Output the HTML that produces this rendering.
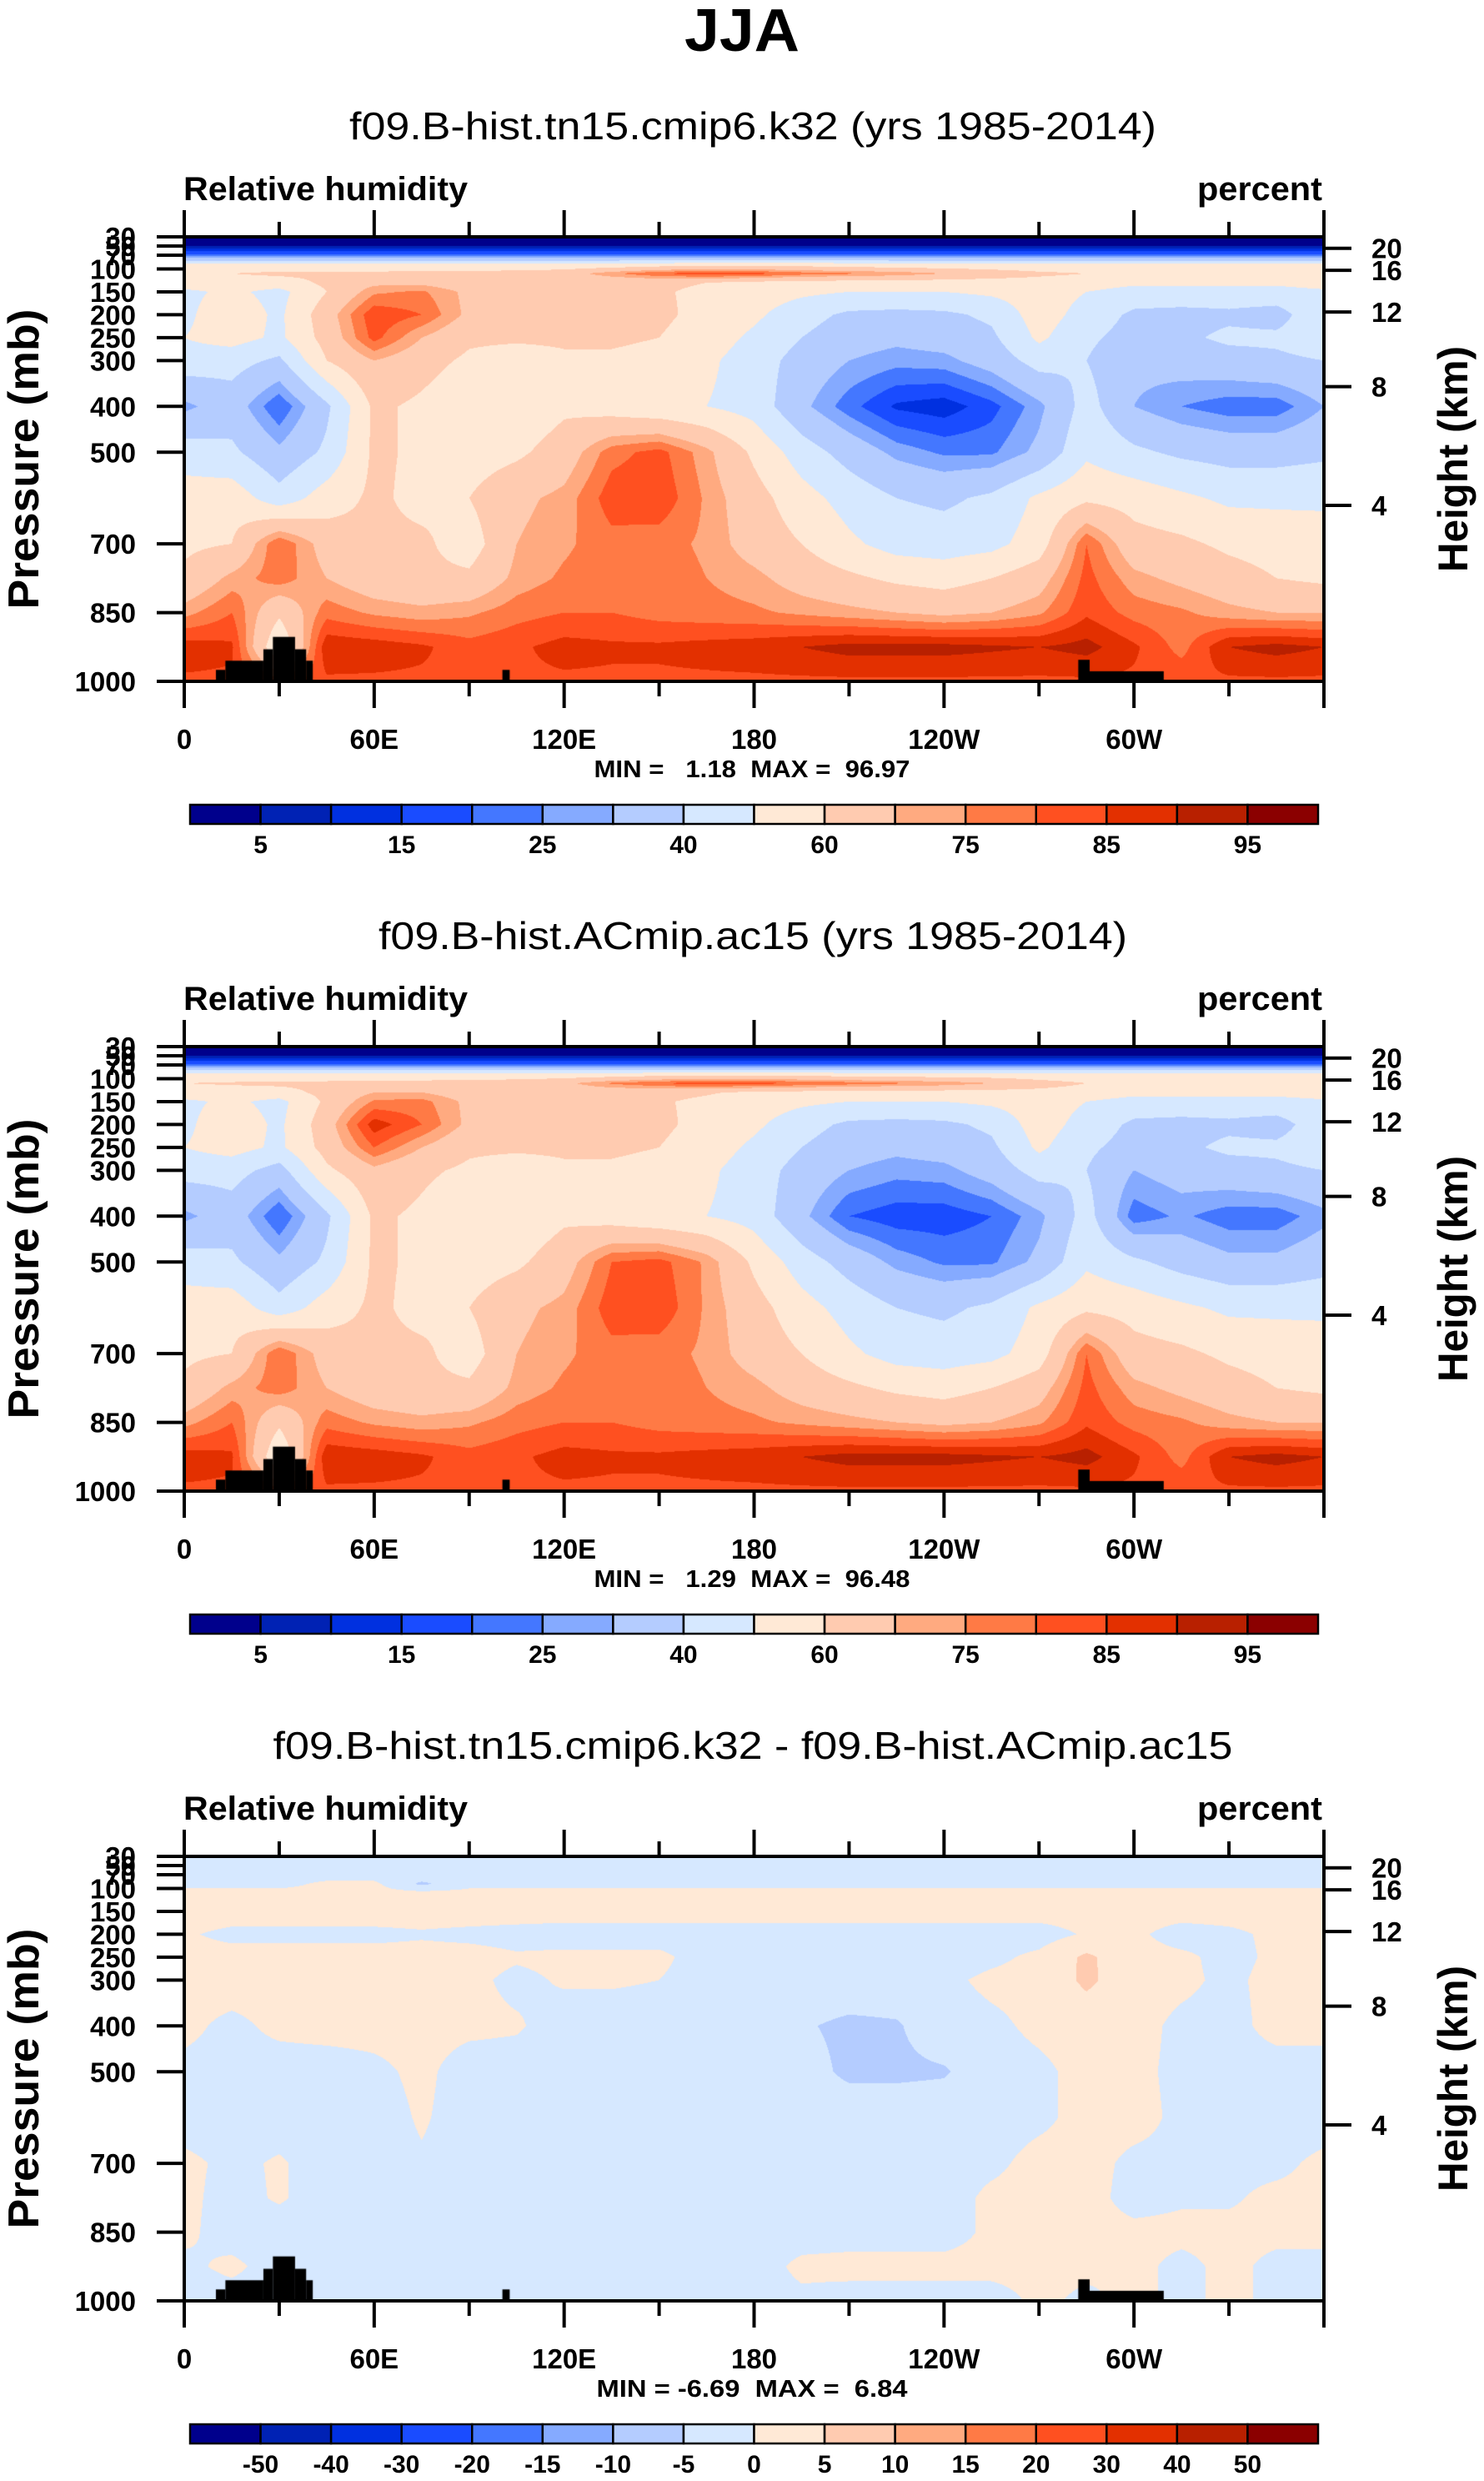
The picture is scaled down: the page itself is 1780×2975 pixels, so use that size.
<!DOCTYPE html>
<html><head><meta charset="utf-8">
<style>
html,body{margin:0;padding:0;background:#fff;}
#root{position:relative;width:1780px;height:2975px;overflow:hidden;font-family:"Liberation Sans",sans-serif;}
canvas{position:absolute;}
svg{position:absolute;left:0;top:0;}
.pre{white-space:pre;}
</style></head>
<body>
<div id="root">
<canvas id="c0" width="1367" height="533" style="left:221px;top:284px"></canvas>
<canvas id="c1" width="1367" height="533" style="left:221px;top:1255px"></canvas>
<canvas id="c2" width="1367" height="533" style="left:221px;top:2226px"></canvas>
<svg id="ov" width="1780" height="2975"></svg>
</div>
<script>
const lons=[0,15,30,45,60,75,90,105,120,135,150,165,180,195,210,225,240,255,270,285,300,315,330,345,360];
const levels=[30,50,70,90,110,130,150,200,250,300,400,500,600,700,775,850,925,1000];
const rhLevels=[5,10,15,20,25,30,40,50,60,70,75,80,85,90,95];
const rhLabels=["5","15","25","40","60","75","85","95"];
const diffLevels=[-50,-40,-30,-20,-15,-10,-5,0,5,10,15,20,30,40,50];
const diffLabels=["-50","-40","-30","-20","-15","-10","-5","0","5","10","15","20","30","40","50"];
const lonTicks=[0,60,120,180,240,300];
const lonTickLabels=["0","60E","120E","180","120W","60W"];
const presTicks=[30,50,70,100,150,200,250,300,400,500,700,850,1000];
const heightTicks=[55,103,194,357,616];
const heightLabels=["20","16","12","8","4"];
const terrain=[[10,13,975],[13,25,955],[25,28,930],[28,35,903],[35,38.5,930],[38.5,40.6,955],[100.5,102.8,975],[282.4,286,953],[286,309.4,978]];
const rh1=[
[2,2,2,2,2,2,2,2,2,2,2,2,2,2,2,2,2,2,2,2,2,2,2,2,2],
[5,5,5,5,5,5,5,5,5,5,5,5,5,5,5,5,5,5,5,5,5,5,5,5,5],
[22,22,22,22,22,22,22,22,22,22,22,22,22,22,22,22,22,22,22,22,22,22,22,22,22],
[52,52,52,52,52,52,52,52,52,52,54,55,55,55,54,52,52,52,52,52,52,52,52,52,52],
[58,60,62,62,62,63,63,64,66,74,80,83,82,78,76,74,70,66,62,60,58,58,58,58,58],
[55,55,55,62,68,68,64,63,63,62,62,60,57,56,55,55,55,55,56,55,52,52,52,52,55],
[48,52,47,60,74,76,68,64,63,62,61,58,55,52,50,50,50,52,55,50,46,46,46,46,48],
[48,56,48,66,84,80,68,64,64,63,62,57,52,44,38,37,38,42,55,46,38,37,38,36,48],
[50,54,48,64,82,70,62,62,62,62,60,55,48,40,34,32,34,38,52,42,36,38,42,42,46],
[46,44,38,60,70,64,58,54,58,58,56,52,45,36,30,27,28,34,44,40,32,34,36,38,40],
[28,35,20,38,62,58,52,52,58,55,52,50,46,32,22,14,12,18,28,44,30,25,22,22,30],
[45,42,32,42,62,58,55,58,65,78,82,72,58,45,36,28,24,24,32,48,42,38,36,36,38],
[55,56,44,55,62,57,60,68,72,83,84,74,64,54,46,40,38,42,52,58,56,52,48,48,48],
[58,60,80,66,62,62,55,70,74,78,77,74,66,60,52,46,45,47,55,80,64,62,58,56,55],
[62,72,78,70,64,62,62,72,76,78,78,75,72,66,62,58,56,60,66,82,72,68,64,60,58],
[73,80,62,78,74,72,74,78,80,80,78,77,76,74,72,70,68,70,74,84,78,76,72,70,70],
[88,86,50,89,88,86,82,84,87,86,86,87,88,90,92,92,92,91,90,92,86,78,90,92,90],
[84,84,78,84,84,84,84,84,84,84,84,84,84,84,84,84,84,84,84,84,84,84,84,84,84]];
const rh2=[
[2,2,2,2,2,2,2,2,2,2,2,2,2,2,2,2,2,2,2,2,2,2,2,2,2],
[5,5,5,5,5,5,5,5,5,5,5,5,5,5,5,5,5,5,5,5,5,5,5,5,5],
[22,22,22,22,22,22,22,22,22,22,22,22,22,22,22,22,22,22,22,22,22,22,22,22,22],
[53,53,53,53,53,53,53,53,53,53,55,56,56,55,54,53,53,53,53,53,53,53,53,53,53],
[60,61,62,62,63,63,64,65,68,76,80,83,82,80,78,76,74,70,64,60,59,59,59,59,60],
[56,56,56,63,70,70,65,64,64,63,63,61,58,57,56,56,56,56,57,56,53,53,53,53,56],
[48,52,47,62,76,77,68,64,63,62,61,58,55,52,50,50,50,52,55,50,46,46,46,46,48],
[48,56,48,66,88,80,68,64,64,63,62,57,52,44,38,37,38,42,55,46,38,37,38,36,46],
[50,54,48,64,80,70,62,62,62,62,60,55,48,40,34,32,34,38,52,42,36,38,42,42,46],
[44,44,36,58,68,62,58,54,58,58,56,52,45,36,30,27,28,34,44,40,30,34,36,38,40],
[28,35,20,38,62,58,52,52,58,55,52,50,46,32,20,17,17,20,28,44,22,26,22,22,28],
[45,42,32,42,62,58,55,58,66,80,82,74,58,45,36,28,24,24,32,48,42,36,32,32,36],
[55,56,44,55,62,57,60,68,72,83,84,74,64,54,46,40,38,42,52,58,56,52,48,48,48],
[58,60,80,66,62,62,55,70,74,78,77,74,66,60,52,46,45,47,55,80,64,62,58,56,55],
[62,72,78,70,64,62,62,72,76,78,78,75,72,66,62,58,56,60,66,82,72,68,64,60,58],
[73,80,62,78,74,72,74,78,80,80,78,77,76,74,72,70,68,70,74,84,78,76,72,70,70],
[88,86,50,89,88,86,82,84,87,86,86,87,88,90,92,92,92,91,90,92,86,78,90,92,90],
[84,84,78,84,84,84,84,84,84,84,84,84,84,84,84,84,84,84,84,84,84,84,84,84,84]];
const rhDiff=[
[-2,-2,-2,-2,-2,-2,-2,-2,-2,-2,-2,-2,-2,-2,-2,-2,-2,-2,-2,-2,-2,-2,-2,-2,-2],
[-2,-2,-2,-2,-2,-2,-2,-2,-2,-2,-2,-2,-2,-2,-2,-2,-2,-2,-2,-2,-2,-2,-2,-2,-2],
[-2,-2,-2,-2,-2,-2,-2,-2,-2,-2,-2,-2,-2,-2,-2,-2,-2,-2,-2,-2,-2,-2,-2,-2,-2],
[-1.5,-1.5,-1.5,1,1,-6,-1.5,-1.5,-1.5,-1.5,-1.5,-1.5,-1.5,-1.5,-1.5,-1.5,-1.5,-1.5,-1.5,-1.5,-1.5,-1.5,-1.5,-1.5,-1.5],
[1.5,1.5,1.5,1.5,1.5,1.5,1.5,1.5,1.5,1.5,1.5,1.5,1.5,1.5,1.5,1.5,1.5,1.5,1.5,1.5,1.5,1.5,1.5,1.5,1.5],
[2,2,2,2,2,2,2,2,2,2,2,2,2,2,2,2,2,2,2,2,2,2,2,2,2],
[2,2,2,2,2,2,2,2,2,2,2,2,2,2,2,2,2,2,2,2,2,2,2,2,2],
[0.5,-1,-1,-1,-1,-0.5,-1,-1.5,-2,-2,-2,-2,-2,-2,-2,-2,-2,-2,-2,0.5,1,-2,-1,1,1],
[1.5,1.5,1.5,1.5,1.5,1.5,1.5,0.5,1,1,1,-2,-2.5,-2.5,-2.5,-2.5,-2.5,-1,1,6,1.5,1,-1.5,1,1.5],
[1.5,2,1.5,1.5,1.5,1.5,1,-1,0.5,0.5,0,-2,-2,-2,-2,-2,-1,1,1.5,6,2,1,-1,1.5,1.5],
[1,-1,1,1.5,1.5,1.5,1,0.5,-2,-2,-2,-2,-4,-4.5,-6,-5.5,-2,-1,1,2,1.5,-1,-1.5,1.5,1.5],
[-1,-1.5,-2,-2,-1,1,-2,-2,-2,-2,-2,-2,-2,-3,-6,-6,-5.5,-2,-1,1.5,1,-1,-1.5,-2,-2],
[-2,-2,-2,-2,-2,0.5,-2,-2,-2,-2,-2,-2,-2,-2,-2,-2,-2,-2,-1,1.5,1.5,-1,-2,-2,-2],
[1,-1,0.5,-2,-2,-0.5,-2,-2,-2,-2,-2,-2,-2,-2,-2,-2,-2,-1,1.5,1.5,-1,-1,-1,-1,1],
[1,-1.5,0.5,-2,-2,-2,-2,-2,-2,-2,-2,-2,-2,-2,-2,-2,-2,1,1.5,1.5,-1.5,-0.5,-0.5,1,1],
[1,-2,-2,-2,-2,-2,-2,-2,-2,-2,-2,-2,-2,-2,-2,-2,-2,1,1.5,1.5,1,1,1,1,1],
[-1,1,-2,-2,-2,-2,-2,-2,-2,-2,-2,-2,-2,1,1.5,1.5,1.5,1.5,1.5,1,1,-1,1,-1,-1],
[-2,-2,-2,-2,-2,-2,-2,-2,-2,-2,-2,-2,-2,-1,-2,-2,-2,-2,1,-1,1,-1,1,-1,-2]];
const palette=["#00008c","#0022b4","#0030e0","#1a4cff","#4477ff","#85aaff","#b4ccff","#d6e8ff","#ffe9d6","#ffcbb0","#ffaa80","#ff7a45","#ff5020","#e33000","#b82000","#8b0000"];

const PL=221,PW=1367,PH=533,PTOP=30,PBOT=1000;
const panelTops=[284,1255,2226];
const cbTops=[965,1936,2907];
const CBL=228,CBR=1581,CBH=23;
function xOf(lon){return lon/360*PW;}
function yOf(p){return (p-PTOP)/(PBOT-PTOP)*PH;}
function hexToRgb(h){return [parseInt(h.substr(1,2),16),parseInt(h.substr(3,2),16),parseInt(h.substr(5,2),16)];}
const palRgb=palette.map(hexToRgb);
function colorIdx(v,lv){let k=0;while(k<lv.length&&v>=lv[k])k++;return k;}
function drawField(canvasId,grid,lv){
  const cv=document.getElementById(canvasId),ctx=cv.getContext('2d');
  const img=ctx.createImageData(PW,PH),d=img.data;
  const colI=[],colF=[];
  for(let px=0;px<PW;px++){const lon=(px+0.5)/PW*360;let i=0;while(i<lons.length-2&&lon>lons[i+1])i++;colI.push(i);colF.push((lon-lons[i])/(lons[i+1]-lons[i]));}
  for(let py=0;py<PH;py++){
    const p=PTOP+(py+0.5)/PH*(PBOT-PTOP);let j=0;while(j<levels.length-2&&p>levels[j+1])j++;
    const fy=(p-levels[j])/(levels[j+1]-levels[j]);
    const r0=grid[j],r1=grid[j+1];
    for(let px=0;px<PW;px++){
      const i=colI[px],fx=colF[px];
      const v=(r0[i]*(1-fx)+r0[i+1]*fx)*(1-fy)+(r1[i]*(1-fx)+r1[i+1]*fx)*fy;
      const c=palRgb[colorIdx(v,lv)];const o=(py*PW+px)*4;
      d[o]=c[0];d[o+1]=c[1];d[o+2]=c[2];d[o+3]=255;
    }
  }
  ctx.putImageData(img,0,0);
  ctx.fillStyle='#000';
  for(const t of terrain){const x0=xOf(t[0]),x1=xOf(t[1]),y0=yOf(t[2]);ctx.fillRect(x0,y0,x1-x0,PH-y0);}
}
drawField('c0',rh1,rhLevels);
drawField('c1',rh2,rhLevels);
drawField('c2',rhDiff,diffLevels);

const NS='http://www.w3.org/2000/svg';
const ov=document.getElementById('ov');
function mk(tag,attrs,parent){const e=document.createElementNS(NS,tag);for(const k in attrs)e.setAttribute(k,attrs[k]);(parent||ov).appendChild(e);return e;}
function txt(s,attrs,parent){const e=mk('text',attrs,parent);e.textContent=s;return e;}

let t;
t=txt('JJA',{x:890,y:61,'font-size':72,'font-weight':'bold','text-anchor':'middle',textLength:138,lengthAdjust:'spacingAndGlyphs'});



const titles=["f09.B-hist.tn15.cmip6.k32 (yrs 1985-2014)","f09.B-hist.ACmip.ac15 (yrs 1985-2014)","f09.B-hist.tn15.cmip6.k32 - f09.B-hist.ACmip.ac15"];
const titleW=[968,898,1151];
const minmax=["MIN =   1.18  MAX =  96.97","MIN =   1.29  MAX =  96.48","MIN = -6.69  MAX =  6.84"];
const minmaxW=[379,379,373];

for(let k=0;k<3;k++){
  const top=panelTops[k];
  const g=mk('g',{});
  
  
  t=txt(titles[k],{x:903,y:top-117,'font-size':46,'text-anchor':'middle',textLength:titleW[k],lengthAdjust:'spacingAndGlyphs'},g);
  
  
  t=txt('Relative humidity',{x:220,y:top-44,'font-size':40,'font-weight':'bold',textLength:341,lengthAdjust:'spacingAndGlyphs'},g);
  
  
  t=txt('percent',{x:1586,y:top-44,'font-size':40,'font-weight':'bold','text-anchor':'end',textLength:150,lengthAdjust:'spacingAndGlyphs'},g);
  
  
  const b=mk('rect',{x:PL,y:top,width:PW,height:PH,fill:'none',stroke:'#000','stroke-width':4},g);
  
  
  for(let lon=0;lon<=360;lon+=30){
    const x=PL+xOf(lon);const major=lon%60===0;const L=major?32:18;
    const tk=mk('line',{x1:x,x2:x,y1:top-L,y2:top,stroke:'#000','stroke-width':4},g);
    
    
    const tb=mk('line',{x1:x,x2:x,y1:top+PH,y2:top+PH+L,stroke:'#000','stroke-width':4},g);
    
    
  }
  lonTicks.forEach((lon,i)=>{
    const l=txt(lonTickLabels[i],{x:PL+xOf(lon),y:top+614,'font-size':33,'font-weight':'bold','text-anchor':'middle'},g);
    
    
  });
  presTicks.forEach(p=>{
    const y=top+yOf(p);
    const tk=mk('line',{x1:PL-33,x2:PL,y1:y,y2:y,stroke:'#000','stroke-width':4},g);
    
    
    const l=txt(String(p),{x:163,y:y+12,'font-size':33,'font-weight':'bold','text-anchor':'end'},g);
    
    
  });
  heightTicks.forEach((p,i)=>{
    const y=top+yOf(p);
    const tk=mk('line',{x1:PL+PW,x2:PL+PW+33,y1:y,y2:y,stroke:'#000','stroke-width':4},g);
    
    
    const l=txt(heightLabels[i],{x:1645,y:y+12,'font-size':33,'font-weight':'bold'},g);
    
    
  });
  t=txt('Pressure (mb)',{x:0,y:0,'font-size':52,'font-weight':'bold','text-anchor':'middle',transform:'translate(46,'+(top+PH/2)+') rotate(-90)',textLength:360,lengthAdjust:'spacingAndGlyphs'},g);
  
  
  t=txt('Height (km)',{x:0,y:0,'font-size':50,'font-weight':'bold','text-anchor':'middle',transform:'translate(1760,'+(top+PH/2)+') rotate(-90)',textLength:271,lengthAdjust:'spacingAndGlyphs'},g);
  
  
  t=txt(minmax[k],{x:902,y:top+648,'font-size':29,'font-weight':'bold','text-anchor':'middle',textLength:minmaxW[k],lengthAdjust:'spacingAndGlyphs','class':'pre'},g);
  
  
  const cb=mk('g',{},g);
  
  
  const bw=(CBR-CBL)/16,cy=cbTops[k];
  for(let i=0;i<16;i++){
    const r=mk('rect',{x:CBL+i*bw,y:cy,width:bw,height:CBH,fill:palette[i],stroke:'#000','stroke-width':2.5},cb);
    
    
  }
  const labs=k<2?rhLabels:diffLabels;
  labs.forEach((s,i)=>{
    const bi=k<2?(2*i+1):(i+1);
    const l=txt(s,{x:CBL+bi*bw,y:cy+58,'font-size':30,'font-weight':'bold','text-anchor':'middle'},cb);
    
    
  });
}
</script>
</body></html>
